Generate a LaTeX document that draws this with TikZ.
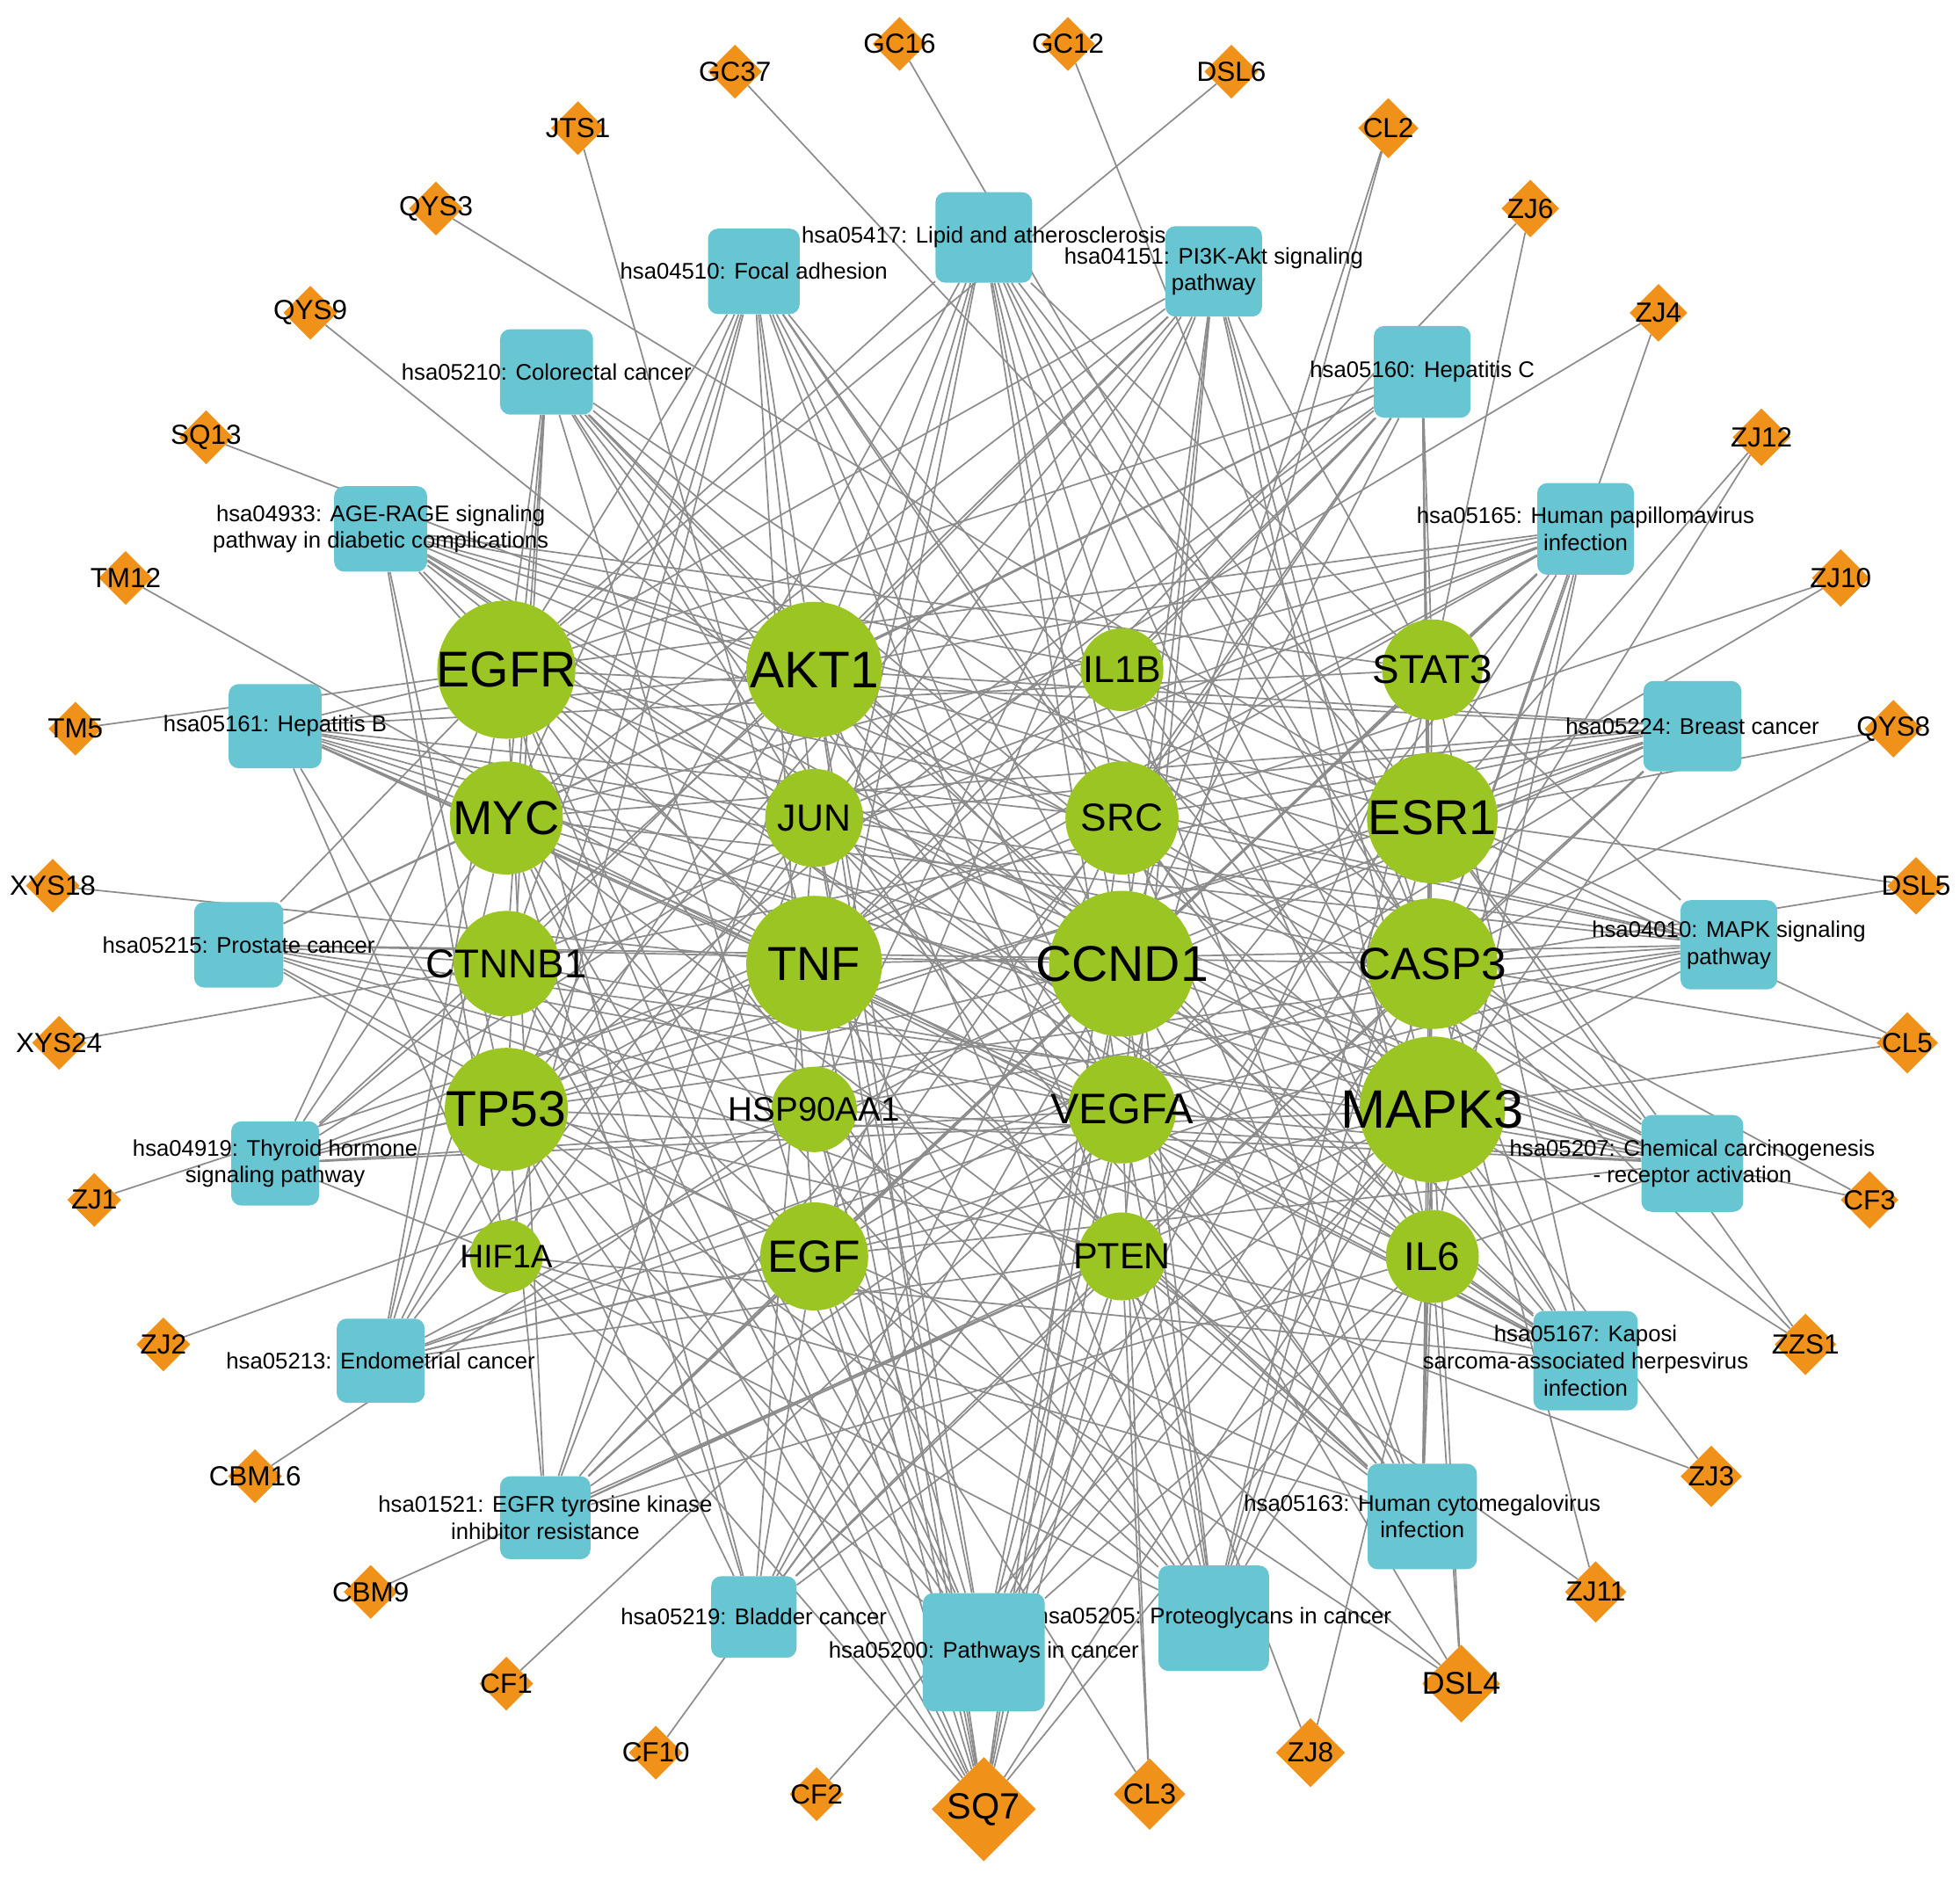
\documentclass[tikz,border=0pt]{standalone}
\usepackage{fontspec}
\setmainfont{Liberation Sans}
\usetikzlibrary{shapes.geometric,backgrounds}
\definecolor{genegreen}{RGB}{155,197,35}
\definecolor{pathblue}{RGB}{104,197,210}
\definecolor{cmpdorange}{RGB}{240,146,26}
\definecolor{edgegray}{RGB}{140,140,140}
\tikzset{
  gene/.style={circle, fill=genegreen, draw=none, inner sep=0pt, minimum size=#1},
  cmpd/.style={diamond, aspect=1, fill=cmpdorange, draw=none, inner sep=0pt, minimum width=#1, minimum height=#1},
  pbox/.style={rectangle, rounded corners=8pt, fill=pathblue, draw=none, inner sep=0pt},
  plab/.style={align=center, text=black, inner sep=0pt, font=\fontsize{18}{21.5}\selectfont},
  glab/.style={text=black, inner sep=0pt},
  clab/.style={text=black, inner sep=0pt},
  lnk/.style={draw=edgegray, line width=1.2pt}
}
\newcommand\GeneNode[5]{\node[gene=#4, label={[glab,font=\fontsize{#5}{#5}\selectfont]center:#1}] (#1) at (#2,#3) {};}
\newcommand\CmpNode[5]{\node[cmpd=#4, label={[clab,font=\fontsize{#5}{#5}\selectfont]center:#1}] (#1) at (#2,#3) {};}
\newcommand\PathNode[6]{\node[pbox, minimum width=#4, minimum height=#5, label={[plab]center:{#6}}] (#1) at (#2,#3) {};}
\begin{document}
\begin{tikzpicture}[x=1pt,y=-1pt]
\useasboundingbox (0,0) rectangle (1560,1495.7);
% genes
\GeneNode{EGFR}{403}{533}{110}{40}
\GeneNode{AKT1}{648}{533}{108}{41}
\GeneNode{IL1B}{893}{533}{66}{30}
\GeneNode{STAT3}{1140}{533}{80}{32}
\GeneNode{MYC}{403}{651}{90}{38}
\GeneNode{JUN}{648}{651}{78}{30}
\GeneNode{SRC}{893}{651}{90}{31}
\GeneNode{ESR1}{1140}{651}{104}{39}
\GeneNode{CTNNB1}{403}{767}{84}{32}
\GeneNode{TNF}{648}{767}{108}{38}
\GeneNode{CCND1}{893}{767}{116}{40}
\GeneNode{CASP3}{1140}{767}{104}{36}
\GeneNode{TP53}{403}{883}{98}{40}
\GeneNode{HSP90AA1}{648}{883}{68}{27}
\GeneNode{VEGFA}{893}{883}{86}{34}
\GeneNode{MAPK3}{1140}{883}{116}{43}
\GeneNode{HIF1A}{403}{1000}{58}{26}
\GeneNode{EGF}{648}{1000}{86}{36}
\GeneNode{PTEN}{893}{1000}{70}{29}
\GeneNode{IL6}{1140}{1000}{74}{32}
% pathways
\PathNode{p05417}{783}{189}{77}{72}{hsa05417: Lipid and atherosclerosis}
\PathNode{p04510}{600}{216}{73}{68}{hsa04510: Focal adhesion}
\PathNode{p04151}{966}{216}{77}{72}{hsa04151: PI3K-Akt signaling\\pathway}
\PathNode{p05210}{435}{296}{74}{68}{hsa05210: Colorectal cancer}
\PathNode{p05160}{1132}{296}{77}{73}{hsa05160: Hepatitis C}
\PathNode{p04933}{303}{421}{74}{68}{hsa04933: AGE-RAGE signaling\\pathway in diabetic complications}
\PathNode{p05165}{1262}{421}{77}{73}{hsa05165: Human papillomavirus\\infection}
\PathNode{p05161}{219}{578}{74}{67}{hsa05161: Hepatitis B}
\PathNode{p05224}{1347}{578}{78}{72}{hsa05224: Breast cancer}
\PathNode{p05215}{190}{752}{71}{68}{hsa05215: Prostate cancer}
\PathNode{p04010}{1376}{752}{77}{71}{hsa04010: MAPK signaling\\pathway}
\PathNode{p04919}{219}{926}{70}{67}{hsa04919: Thyroid hormone\\signaling pathway}
\PathNode{p05207}{1347}{926}{81}{77}{hsa05207: Chemical carcinogenesis\\- receptor activation}
\PathNode{p05213}{303}{1083}{70}{67}{hsa05213: Endometrial cancer}
\PathNode{p05167}{1262}{1083}{83}{79}{hsa05167: Kaposi\\sarcoma-associated herpesvirus\\infection}
\PathNode{p01521}{434}{1208}{72}{66}{hsa01521: EGFR tyrosine kinase\\inhibitor resistance}
\PathNode{p05163}{1132}{1207}{87}{84}{hsa05163: Human cytomegalovirus\\infection}
\PathNode{p05219}{600}{1287}{68}{65}{hsa05219: Bladder cancer}
\PathNode{p05205}{966}{1288}{88}{84}{hsa05205: Proteoglycans in cancer}
\PathNode{p05200}{783}{1315}{97}{94}{hsa05200: Pathways in cancer}
% compounds
\CmpNode{GC37}{585}{57}{43}{22}
\CmpNode{GC16}{716}{35}{43}{22}
\CmpNode{GC12}{850}{35}{43}{22}
\CmpNode{DSL6}{980}{57}{43}{22}
\CmpNode{JTS1}{460}{102}{43}{22}
\CmpNode{CL2}{1105}{102}{48}{22}
\CmpNode{QYS3}{347}{166}{43}{22}
\CmpNode{ZJ6}{1218}{166}{46}{22}
\CmpNode{QYS9}{247}{249}{43}{22}
\CmpNode{ZJ4}{1320}{249}{46}{22}
\CmpNode{SQ13}{164}{348}{43}{22}
\CmpNode{ZJ12}{1402}{348}{46}{22}
\CmpNode{TM12}{100}{460}{43}{22}
\CmpNode{ZJ10}{1465}{460}{46}{22}
\CmpNode{TM5}{60}{580}{43}{22}
\CmpNode{QYS8}{1507}{580}{46}{22}
\CmpNode{XYS18}{42}{705}{43}{22}
\CmpNode{DSL5}{1525}{705}{46}{22}
\CmpNode{XYS24}{47}{830}{43}{22}
\CmpNode{CL5}{1518}{830}{49}{22}
\CmpNode{ZJ1}{75}{955}{43}{22}
\CmpNode{CF3}{1488}{955}{46}{22}
\CmpNode{ZJ2}{130}{1070}{43}{22}
\CmpNode{ZZS1}{1437}{1070}{49}{22}
\CmpNode{CBM16}{203}{1175}{43}{22}
\CmpNode{ZJ3}{1362}{1175}{49}{22}
\CmpNode{CBM9}{295}{1267}{43}{22}
\CmpNode{ZJ11}{1270}{1267}{49}{22}
\CmpNode{CF1}{403}{1340}{43}{22}
\CmpNode{DSL4}{1163}{1340}{62}{25}
\CmpNode{CF10}{522}{1395}{43}{22}
\CmpNode{ZJ8}{1043}{1395}{55}{22}
\CmpNode{CF2}{650}{1428}{43}{22}
\CmpNode{CL3}{915}{1428}{57}{23}
\CmpNode{SQ7}{783}{1440}{83}{29}
\begin{pgfonlayer}{background}
\fill[white] (0,0) rectangle (1560,1495.7);
\foreach \p/\gs in {%
 p05200/{EGFR,AKT1,IL6,STAT3,MYC,JUN,CTNNB1,CCND1,CASP3,TP53,HSP90AA1,VEGFA,MAPK3,HIF1A,EGF,PTEN,ESR1},%
 p05205/{EGFR,AKT1,STAT3,MYC,SRC,ESR1,CTNNB1,TNF,CCND1,CASP3,TP53,VEGFA,MAPK3,HIF1A,IL6,PTEN},%
 p05163/{AKT1,IL1B,STAT3,MYC,SRC,TNF,CCND1,CASP3,TP53,MAPK3,IL6,PTEN,EGFR,VEGFA,JUN,HIF1A},%
 p05167/{AKT1,IL6,STAT3,MYC,JUN,SRC,CCND1,TP53,VEGFA,MAPK3,HIF1A,IL1B,CASP3,EGFR,TNF,CTNNB1},%
 p05207/{EGFR,AKT1,MYC,JUN,SRC,ESR1,CCND1,HSP90AA1,VEGFA,MAPK3,EGF,CASP3,TP53,IL6,CTNNB1,IL1B},%
 p04010/{EGFR,AKT1,IL1B,MYC,JUN,TNF,CASP3,TP53,VEGFA,MAPK3,EGF,SRC,HSP90AA1,STAT3},%
 p05224/{EGFR,AKT1,MYC,JUN,ESR1,CTNNB1,CCND1,TP53,MAPK3,EGF,PTEN,HSP90AA1,CASP3,SRC},%
 p05165/{EGFR,AKT1,STAT3,CTNNB1,TNF,CCND1,CASP3,TP53,VEGFA,MAPK3,EGF,PTEN,IL6,MYC,JUN},%
 p05160/{EGFR,AKT1,STAT3,MYC,TNF,CCND1,CASP3,TP53,MAPK3,EGF,IL6,IL1B,JUN,SRC},%
 p04151/{EGFR,AKT1,MYC,CCND1,TP53,HSP90AA1,VEGFA,MAPK3,EGF,PTEN,IL6,STAT3,CASP3,CTNNB1,HIF1A},%
 p05417/{AKT1,IL1B,STAT3,JUN,SRC,TNF,CASP3,TP53,HSP90AA1,MAPK3,IL6,EGFR,CCND1,VEGFA,ESR1},%
 p04510/{EGFR,AKT1,JUN,SRC,CTNNB1,CCND1,VEGFA,MAPK3,EGF,PTEN,MYC,TP53,HIF1A,IL6},%
 p05210/{EGFR,AKT1,MYC,JUN,CTNNB1,CCND1,CASP3,TP53,MAPK3,EGF,IL6,VEGFA,PTEN},%
 p04933/{AKT1,IL1B,STAT3,JUN,TNF,CCND1,CASP3,VEGFA,MAPK3,IL6,EGFR,TP53,HIF1A,ESR1},%
 p05161/{AKT1,STAT3,MYC,JUN,SRC,TNF,CCND1,CASP3,TP53,MAPK3,IL6,EGFR,HIF1A,VEGFA},%
 p05215/{EGFR,AKT1,CTNNB1,CCND1,TP53,HSP90AA1,MAPK3,EGF,PTEN,MYC,CASP3,VEGFA},%
 p04919/{AKT1,MYC,SRC,ESR1,CTNNB1,CCND1,TP53,HIF1A,MAPK3,EGFR,JUN,VEGFA},%
 p05213/{EGFR,AKT1,MYC,CTNNB1,CCND1,TP53,MAPK3,EGF,PTEN,CASP3,JUN,VEGFA},%
 p01521/{EGFR,AKT1,STAT3,SRC,VEGFA,MAPK3,EGF,PTEN,IL6,TP53,CCND1,JUN},%
 p05219/{EGFR,MYC,SRC,CCND1,TP53,VEGFA,MAPK3,EGF,CASP3,PTEN,JUN},%
 GC37/{ESR1},GC16/{CASP3},GC12/{CASP3},DSL6/{EGFR},JTS1/{TNF},%
 CL2/{CCND1,VEGFA},QYS3/{ESR1},ZJ6/{TNF,STAT3},QYS9/{CCND1},%
 ZJ4/{JUN,CASP3},SQ13/{AKT1},ZJ12/{ESR1,CASP3},TM12/{TNF},%
 ZJ10/{SRC,ESR1},TM5/{EGFR},QYS8/{ESR1,CASP3},XYS18/{TNF},%
 DSL5/{ESR1,CASP3},XYS24/{CTNNB1},CL5/{ESR1,CASP3,MAPK3},ZJ1/{TNF},%
 CF3/{MAPK3,CASP3},ZJ2/{HSP90AA1},ZZS1/{MAPK3,CASP3,ESR1},%
 CBM16/{HSP90AA1},ZJ3/{PTEN,MAPK3},CBM9/{PTEN},ZJ11/{PTEN,CASP3},%
 CF1/{VEGFA},DSL4/{IL6,MAPK3,HSP90AA1,EGF,VEGFA},CF10/{VEGFA},%
 ZJ8/{IL6,PTEN},CF2/{MAPK3},CL3/{PTEN,EGF,VEGFA},%
 SQ7/{EGFR,AKT1,MYC,JUN,TNF,CTNNB1,TP53,HSP90AA1,HIF1A,EGF,CCND1,VEGFA,PTEN,MAPK3,IL6,SRC}%
}{\foreach \g in \gs {\draw[lnk] (\p) -- (\g);}}
\end{pgfonlayer}
\end{tikzpicture}
\end{document}
